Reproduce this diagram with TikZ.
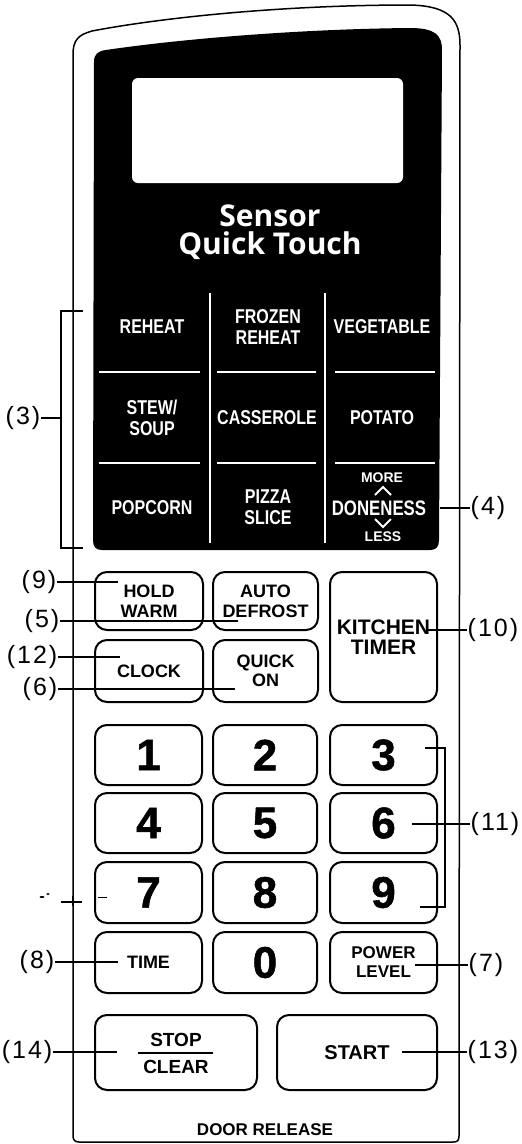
\documentclass[tikz,border=0pt]{standalone}
\usepackage{fontspec}
\setmainfont{Liberation Sans}
\newfontfamily\condf[FakeStretch=0.8]{Liberation Sans}
\newfontfamily\brandf{Open Sans}
\newfontfamily\numf[FakeBold=1.2]{Liberation Sans Bold}
\newfontfamily\labf[LetterSpace=8]{Liberation Sans}
\begin{document}
\begin{tikzpicture}[x=1pt,y=-1pt,
  btn/.style={draw, line width=2pt, rounded corners=12pt, inner sep=0pt, align=center,
    font=\bfseries\fontsize{18}{20}\selectfont},
  numkey/.style={btn, minimum height=60pt, font=\numf\fontsize{44}{46}\selectfont},
  cat/.style={text=white, align=center, inner sep=0pt,
    font=\condf\bfseries\fontsize{20}{21.5}\selectfont},
  small/.style={text=white, inner sep=0pt, font=\bfseries\fontsize{14}{15}\selectfont},
  lab/.style={inner sep=0.5pt, font=\labf\fontsize{25}{27}\selectfont},
  lead/.style={line width=1.2pt},
  grid/.style={white, line width=2.4pt},
  panel/.style={draw, line width=1.5pt}]
\useasboundingbox (0,0) rectangle (522,1144);
% outer panel
\draw[panel] (73,55) .. controls (73,40) and (78,35) .. (92,31)
  .. controls (160,18) and (280,5) .. (410,5)
  .. controls (450,6) and (460,20) .. (460,45)
  -- (459,1136) .. controls (459,1141) and (457,1142) .. (453,1142)
  -- (79,1142) .. controls (75,1142) and (73,1140) .. (73,1136) -- cycle;
% black control panel
\fill (94,62) .. controls (94,54) and (98,51) .. (106,50)
  .. controls (180,39) and (300,29) .. (410,28)
  .. controls (435,28) and (442,35) .. (442,50)
  -- (439,540) .. controls (439,547) and (436,550) .. (430,550)
  -- (102,550) .. controls (96,550) and (93,547) .. (93,540) -- cycle;
% display
\fill[white, rounded corners=6pt] (132,78) rectangle (403,183);
\node[inner sep=0pt, text=white, font=\brandf\bfseries\fontsize{30}{32}\selectfont] (sensor) at (270,216) {Sensor};
\node[inner sep=0pt, text=white, font=\brandf\bfseries\fontsize{30}{32}\selectfont] (quick) at (270,246) {Quick Touch};
% grid lines
\draw[grid] (210,293) -- (210,543);
\draw[grid] (325,293) -- (325,543);
\foreach \yy in {372,463} {
  \draw[grid] (99,\yy) -- (200,\yy);
  \draw[grid] (217,\yy) -- (316,\yy);
  \draw[grid] (335,\yy) -- (435,\yy);
}
% category labels
\node[cat] (reheat) at (152,327) {REHEAT};
\node[cat] (frozen) at (268,327) {FROZEN\\REHEAT};
\node[cat] (veg) at (382,327) {VEGETABLE};
\node[cat] (stew) at (152,418) {STEW/\\SOUP};
\node[cat] (cass) at (267,418) {CASSEROLE};
\node[cat] (potato) at (382,418) {POTATO};
\node[cat] (popcorn) at (152,508) {POPCORN};
\node[cat] (pizza) at (268,507) {PIZZA\\SLICE};
\node[small] (more) at (382,478) {MORE};
\node[cat, font=\condf\bfseries\fontsize{21}{22}\selectfont] (done) at (379,508) {DONENESS};
\node[small] (less) at (383,537) {LESS};
\draw[white, line width=2pt] (375,495) -- (383,487) -- (391,495);
\draw[white, line width=2pt] (375,519) -- (383,527) -- (391,519);
% function buttons
\node[btn, minimum width=108pt, minimum height=58pt] (hold) at (149,601) {HOLD\\WARM};
\node[btn, minimum width=105pt, minimum height=58pt] (defrost) at (265.5,601) {AUTO\\DEFROST};
\node[btn, minimum width=107pt, minimum height=130pt, font=\bfseries\fontsize{21}{20}\selectfont] (kitchen) at (383.5,637) {KITCHEN\\TIMER};
\node[btn, minimum width=108pt, minimum height=62pt] (clock) at (149,671) {CLOCK};
\node[btn, minimum width=105pt, minimum height=62pt, font=\bfseries\fontsize{18}{19}\selectfont] (quickon) at (265.5,671) {QUICK\\ON};
% number keys
\node[numkey, minimum width=107pt] (k1) at (148.5,755) {1};
\node[numkey, minimum width=104pt] (k2) at (265,755) {2};
\node[numkey, minimum width=107pt] (k3) at (383.5,755) {3};
\node[numkey, minimum width=107pt] (k4) at (148.5,823) {4};
\node[numkey, minimum width=104pt] (k5) at (265,823) {5};
\node[numkey, minimum width=107pt] (k6) at (383.5,823) {6};
\node[numkey, minimum width=107pt, minimum height=61pt] (k7) at (148.5,892.5) {7};
\node[numkey, minimum width=104pt, minimum height=61pt] (k8) at (265,892.5) {8};
\node[numkey, minimum width=107pt, minimum height=61pt] (k9) at (383.5,892.5) {9};
\node[btn, minimum width=107pt, minimum height=61pt] (time) at (148.5,962.5) {TIME};
\node[numkey, minimum width=104pt, minimum height=61pt] (k0) at (265,962.5) {0};
\node[btn, minimum width=107pt, minimum height=61pt, font=\bfseries\fontsize{17}{19}\selectfont] (power) at (383.5,962.5) {POWER\\LEVEL};
% stop / start
\node[btn, minimum width=162pt, minimum height=75pt] (stop) at (176,1052.5) {};
\node[inner sep=0pt, font=\bfseries\fontsize{19}{20}\selectfont] (stoptxt) at (176,1040) {STOP};
\node[inner sep=0pt, font=\bfseries\fontsize{19}{20}\selectfont] (cleartxt) at (176,1067) {CLEAR};
\draw[line width=1.3pt] (138,1053) -- (213,1053);
\node[btn, minimum width=160pt, minimum height=75pt, font=\bfseries\fontsize{20}{21}\selectfont] (start) at (357,1052.5) {START};
\node[inner sep=0pt, font=\bfseries\fontsize{17}{18}\selectfont] (door) at (265,1130) {DOOR RELEASE};
% callouts
\node[lab, anchor=east] (l3) at (41,418) {(3)};
\draw[lead] (83,311) -- (61,311) -- (61,548) -- (83,548);
\coordinate (c3) at (61,418);
\draw[lead] (l3.east) -- (c3);
\node[lab, anchor=west] (l4) at (470,508) {(4)};
\coordinate (c4) at (440,508);
\draw[lead] (c4) -- (l4.west);
\node[lab, anchor=east] (l9) at (57,582) {(9)};
\coordinate (c9) at (118,582);
\draw[lead] (l9.east) -- (c9);
\node[lab, anchor=east] (l5) at (60,621) {(5)};
\coordinate (c5) at (238,621);
\draw[lead] (l5.east) -- (c5);
\node[lab, anchor=east] (l12) at (58,657) {(12)};
\coordinate (c12) at (120,657);
\draw[lead] (l12.east) -- (c12);
\node[lab, anchor=east] (l6) at (58,689) {(6)};
\coordinate (c6) at (235,689);
\draw[lead] (l6.east) -- (c6);
\node[lab, anchor=west] (l10) at (467,630) {(10)};
\coordinate (c10) at (427,630);
\draw[lead] (c10) -- (l10.west);
\node[lab, anchor=west] (l11) at (470,824) {(11)};
\draw[lead] (425,748) -- (445,748) -- (445,907) -- (420,907);
\coordinate (c11) at (412,824);
\draw[lead] (c11) -- (l11.west);
\node[lab, anchor=east] (l8) at (55,962) {(8)};
\coordinate (c8) at (118,962);
\draw[lead] (l8.east) -- (c8);
\node[lab, anchor=west] (l7) at (468,965) {(7)};
\coordinate (c7) at (415,965);
\draw[lead] (c7) -- (l7.west);
\node[lab, anchor=east] (l14) at (53,1052) {(14)};
\coordinate (c14) at (117,1052);
\draw[lead] (l14.east) -- (c14);
\node[lab, anchor=west] (l13) at (467,1052) {(13)};
\coordinate (c13) at (402,1052);
\draw[lead] (c13) -- (l13.west);
% stray marks near key 7
\draw[line width=1.6pt] (61,902) -- (82,902);
\draw[line width=1pt] (72,896) -- (72,906);
\fill (42,897) ellipse (2.5pt and 1pt);
\fill (48,894) ellipse (1.8pt and 1pt);
\draw[line width=1pt] (98,897) -- (107,897);
\end{tikzpicture}
\end{document}
